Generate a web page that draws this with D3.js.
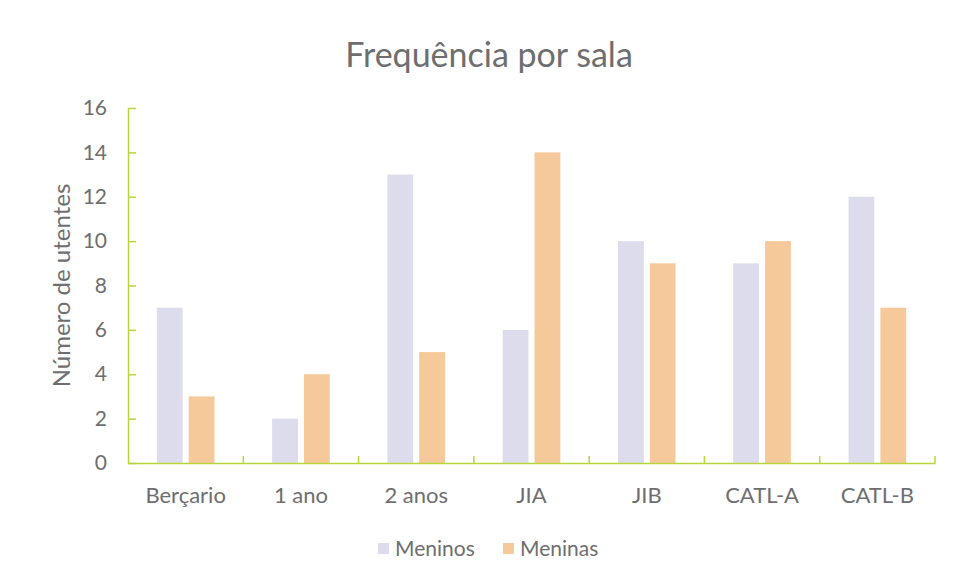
<!DOCTYPE html>
<html>
<head>
<meta charset="utf-8">
<title>Frequência por sala</title>
<script src="https://cdn.jsdelivr.net/npm/d3@7"></script>
<style>
    * { margin: 0; padding: 0; }
    body { background: #fff; font-family: Lato, "Open Sans", sans-serif; }
    svg { display: block; }
</style>
</head>
<body>
<div class="graph"></div>
<script>
    // Data
    const salas = ['Berçario', '1 ano', '2 anos', 'JIA', 'JIB', 'CATL-A', 'CATL-B'];
    const meninos = [7, 2, 13, 6, 10, 9, 12];
    const meninas = [3, 4, 5, 14, 9, 10, 7];
    const series = ['Meninos', 'Meninas'];
    const yTicks = [0, 2, 4, 6, 8, 10, 12, 14, 16];

    const width = 957, height = 583;
    const margin = {left: 128, right: 22, top: 108, bottom: 120};
    const textColor = '#6e6e70';
    const axisColor = '#b9d53c';
    const colors = {Meninos: '#dcdced', Meninas: '#f6c99b'};

    const svg = d3.select('.graph').append('svg')
        .attr('width', width)
        .attr('height', height);

    const x0 = d3.scaleBand()
        .domain(salas)
        .range([margin.left, width - margin.right])
        .paddingInner(0.5)
        .paddingOuter(0.25);

    const x1 = d3.scaleBand()
        .domain(series)
        .range([0, x0.bandwidth()])
        .paddingInner(0.19);

    const y = d3.scaleLinear()
        .domain([0, 16])
        .range([height - margin.bottom, margin.top]);

    // Title
    svg.append('text')
        .attr('x', 489)
        .attr('y', 67)
        .attr('text-anchor', 'middle')
        .attr('fill', textColor)
        .style('font-size', '34px')
        .text('Frequência por sala');

    // Bars
    const rows = salas.map((s, i) => ({sala: s, Meninos: meninos[i], Meninas: meninas[i]}));
    const groups = svg.append('g').selectAll('g')
        .data(rows)
        .enter()
        .append('g')
        .attr('transform', d => 'translate(' + x0(d.sala) + ',0)');

    groups.selectAll('rect')
        .data(d => series.map(k => ({key: k, value: d[k]})))
        .enter()
        .append('rect')
        .attr('x', d => x1(d.key))
        .attr('y', d => y(d.value))
        .attr('width', x1.bandwidth())
        .attr('height', d => y(0) - y(d.value))
        .attr('fill', d => colors[d.key]);

    // Y axis
    const yAxis = d3.axisLeft(y)
        .tickValues(yTicks)
        .tickSizeInner(-8)
        .tickSizeOuter(0)
        .tickPadding(21);

    const yG = svg.append('g')
        .attr('transform', 'translate(' + margin.left + ',0)')
        .call(yAxis);
    yG.selectAll('.domain, line').attr('stroke', axisColor).attr('stroke-width', 1.5);
    yG.selectAll('text').attr('fill', textColor).style('font-size', '21px').style('font-family', 'Lato, sans-serif');

    // X axis
    const xAxis = d3.axisBottom(x0).tickSize(0).tickPadding(24);
    const xG = svg.append('g')
        .attr('transform', 'translate(0,' + y(0) + ')')
        .call(xAxis);
    xG.select('.domain').attr('stroke', axisColor).attr('stroke-width', 1.5);
    xG.selectAll('text').attr('fill', textColor).style('font-size', '22px').style('font-family', 'Lato, sans-serif');

    // category boundary ticks
    const bounds = salas.map(s => x0(s) - x0.step() * x0.paddingInner() / 2).slice(1)
        .concat([x0.range()[1]]);
    xG.selectAll('.btick')
        .data(bounds)
        .enter()
        .append('line')
        .attr('x1', d => d).attr('x2', d => d)
        .attr('y1', 0).attr('y2', -7)
        .attr('stroke', axisColor)
        .attr('stroke-width', 1.5);

    // Y axis title
    svg.append('text')
        .attr('transform', 'translate(70,' + y(8) + ') rotate(-90)')
        .attr('text-anchor', 'middle')
        .attr('fill', textColor)
        .style('font-size', '24px')
        .text('Número de utentes');

    // Legend
    const legend = svg.append('g').attr('transform', 'translate(378,549)');
    const lx = [0, 125];
    series.forEach((s, i) => {
        legend.append('rect')
            .attr('x', lx[i]).attr('y', -6)
            .attr('width', 11).attr('height', 11)
            .attr('fill', colors[s]);
        legend.append('text')
            .attr('x', lx[i] + 17).attr('y', 7)
            .attr('fill', textColor)
            .style('font-size', '21px')
            .text(s);
    });
</script>
</body>
</html>
